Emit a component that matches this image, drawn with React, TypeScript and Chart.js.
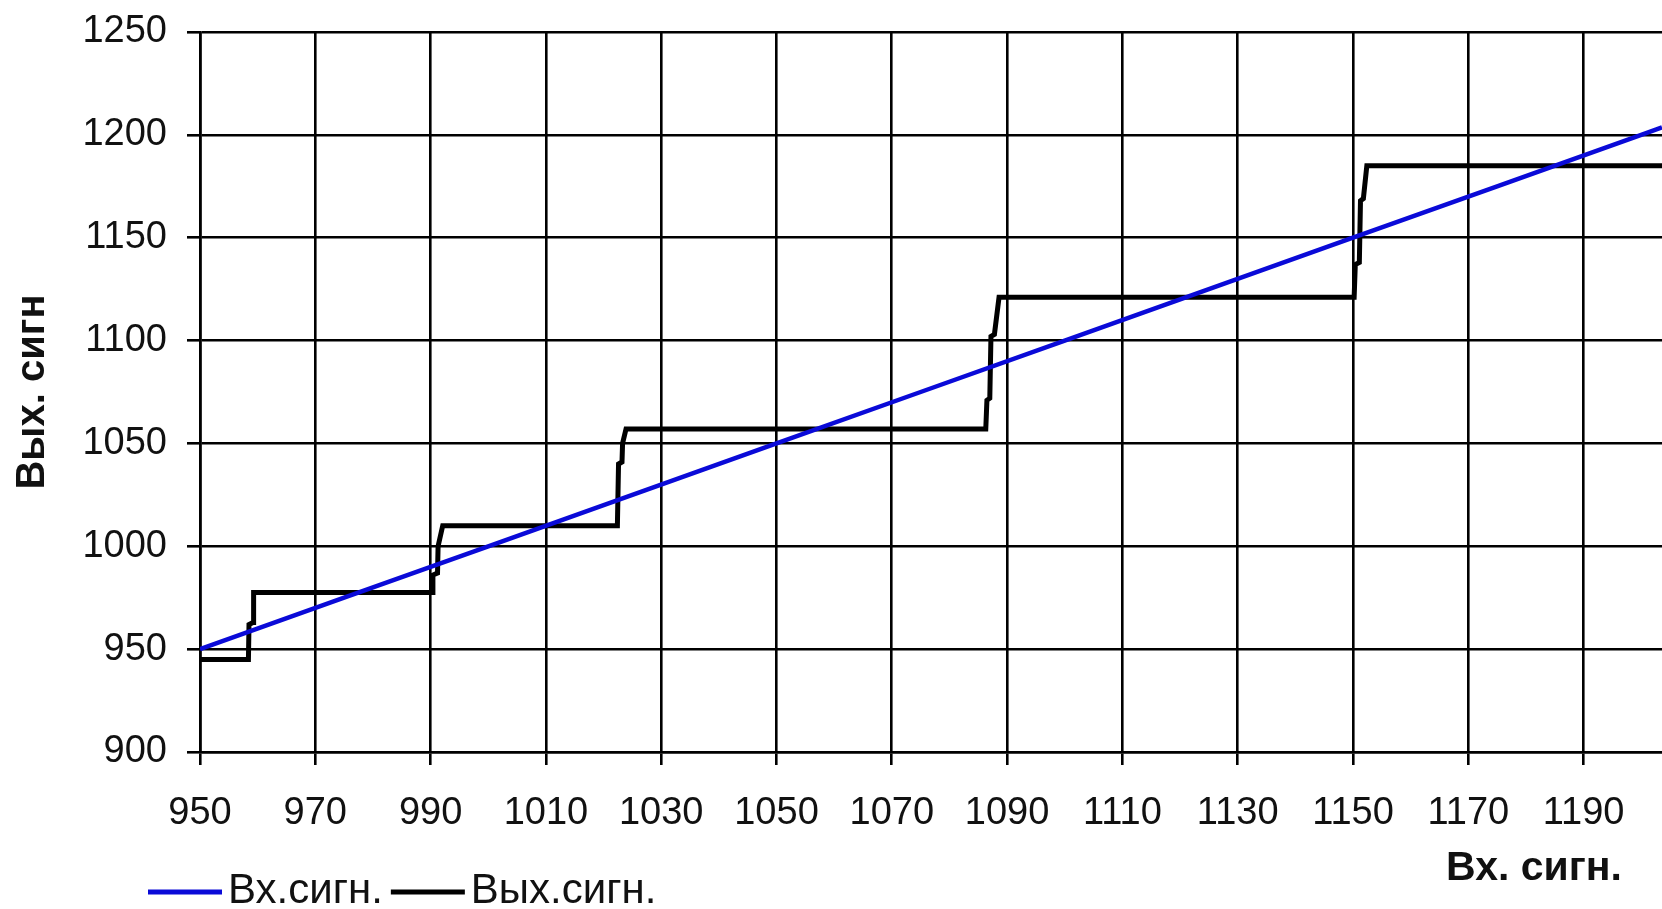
import { useEffect, useRef } from "react";
import { Chart, registerables } from "chart.js";

Chart.register(...registerables);

// ---- text ----
const inputLabel = "Вх.сигн.";
const outputLabel = "Вых.сигн.";
const xAxisTitle = "Вх. сигн.";
const yAxisTitle = "Вых. сигн";

// ---- data ----
// input signal (blue): output equals input along the whole range
const inputX = [950, 975, 1000, 1025, 1050, 1075, 1100, 1125, 1150, 1175, 1200, 1203.6];
const inputY = [950, 975, 1000, 1025, 1050, 1075, 1100, 1125, 1150, 1175, 1200, 1203.6];

// output signal (black): quantised steps
const outputX = [
  950, 958.4, 958.5, 959.2, 959.3, 959.9,
  990.3, 990.4, 991.2, 991.3, 992.1,
  1022.4, 1022.6, 1023.2, 1023.3, 1023.9,
  1086.3, 1086.5, 1087.0, 1087.2, 1087.8, 1088.6,
  1150.2, 1150.4, 1151.1, 1151.3, 1151.8, 1152.4,
  1203.6,
];
const outputY = [
  945, 945, 962, 963, 977.5, 977.5,
  977.5, 986, 987, 1000, 1010,
  1010, 1040, 1041, 1050, 1057,
  1057, 1071, 1072, 1102, 1103, 1121,
  1121, 1137, 1138, 1168, 1169, 1185,
  1185,
];

const xTicks = [950, 970, 990, 1010, 1030, 1050, 1070, 1090, 1110, 1130, 1150, 1170, 1190];
const yTicks = [900, 950, 1000, 1050, 1100, 1150, 1200, 1250];
const xMin = 950;
const xMax = 1203.6;
const yMin = 900;
const yMax = 1250;

const FONT = "'Liberation Sans', Arial, sans-serif";
const TEXT = "#111";

const footerPlugin = {
  id: "footerLegend",
  afterDraw(chart: any) {
    const ctx = chart.ctx as CanvasRenderingContext2D;
    ctx.save();
    // x axis title, right-aligned under the last ticks
    ctx.font = `bold 41px ${FONT}`;
    ctx.fillStyle = TEXT;
    ctx.textAlign = "right";
    ctx.textBaseline = "alphabetic";
    ctx.fillText(xAxisTitle, 1622, 880);

    // legend
    ctx.font = `42px ${FONT}`;
    ctx.textAlign = "left";
    ctx.textBaseline = "alphabetic";
    let x = 148;
    const y = 892;
    chart.data.datasets.forEach((ds: any) => {
      ctx.strokeStyle = ds.borderColor;
      ctx.lineWidth = 5;
      ctx.beginPath();
      ctx.moveTo(x, y);
      ctx.lineTo(x + 74, y);
      ctx.stroke();
      x += 80;
      ctx.fillStyle = TEXT;
      ctx.fillText(ds.label, x, 903);
      x += ctx.measureText(ds.label).width + 8;
    });
    ctx.restore();
  },
};

export default function App() {
  const ref = useRef<HTMLCanvasElement | null>(null);

  useEffect(() => {
    if (!ref.current) return;
    const chart = new Chart(ref.current, {
      type: "line",
      data: {
        datasets: [
          {
            label: inputLabel,
            data: inputX.map((x, i) => ({ x, y: inputY[i] })),
            borderColor: "#0a0ad8",
            borderWidth: 4.5,
            pointRadius: 0,
            tension: 0,
            fill: false,
          },
          {
            label: outputLabel,
            data: outputX.map((x, i) => ({ x, y: outputY[i] })),
            borderColor: "#000000",
            borderWidth: 5,
            pointRadius: 0,
            tension: 0,
            fill: false,
          },
        ],
      },
      options: {
        responsive: false,
        animation: false,
        layout: { padding: { top: 32, right: 0, bottom: 0, left: 0 } },
        plugins: {
          legend: { display: false },
          tooltip: { enabled: false },
        },
        scales: {
          x: {
            type: "linear",
            min: xMin,
            max: xMax,
            afterBuildTicks: (scale: any) => {
              scale.ticks = xTicks.map((v) => ({ value: v }));
            },
            afterFit: (scale: any) => {
              scale.height = 909 - 752;
              scale.paddingRight = 0;
            },
            ticks: {
              font: { family: FONT, size: 38 },
              color: TEXT,
              padding: 26,
              maxRotation: 0,
              autoSkip: false,
              callback: (v: any) => String(v),
            },
            grid: {
              color: "#000",
              lineWidth: 2.6,
              tickLength: 13,
              tickColor: "#000",
              tickWidth: 2.6,
            },
            border: { color: "#000", width: 2.6 },
          },
          y: {
            type: "linear",
            min: yMin,
            max: yMax,
            afterBuildTicks: (scale: any) => {
              scale.ticks = yTicks.map((v) => ({ value: v }));
            },
            afterFit: (scale: any) => {
              scale.width = 200;
              scale.paddingTop = 0;
              scale.paddingBottom = 0;
            },
            ticks: {
              font: { family: FONT, size: 38 },
              color: TEXT,
              padding: 20,
              autoSkip: false,
              callback: (v: any) => String(v),
            },
            grid: {
              color: "#000",
              lineWidth: 2.6,
              tickLength: 13,
              tickColor: "#000",
              tickWidth: 2.6,
            },
            border: { color: "#000", width: 2.6 },
            title: {
              display: true,
              text: yAxisTitle,
              color: TEXT,
              font: { family: FONT, size: 40, weight: "bold" },
              padding: { top: 9, bottom: 0 },
            },
          },
        },
      },
      plugins: [footerPlugin],
    });
    return () => chart.destroy();
  }, []);

  return (
    <div
      style={{
        position: "fixed",
        left: 0,
        top: 0,
        width: 1662,
        height: 909,
        background: "#fff",
        overflow: "hidden",
      }}
    >
      <canvas ref={ref} width={1662} height={909} style={{ display: "block" }} />
    </div>
  );
}
